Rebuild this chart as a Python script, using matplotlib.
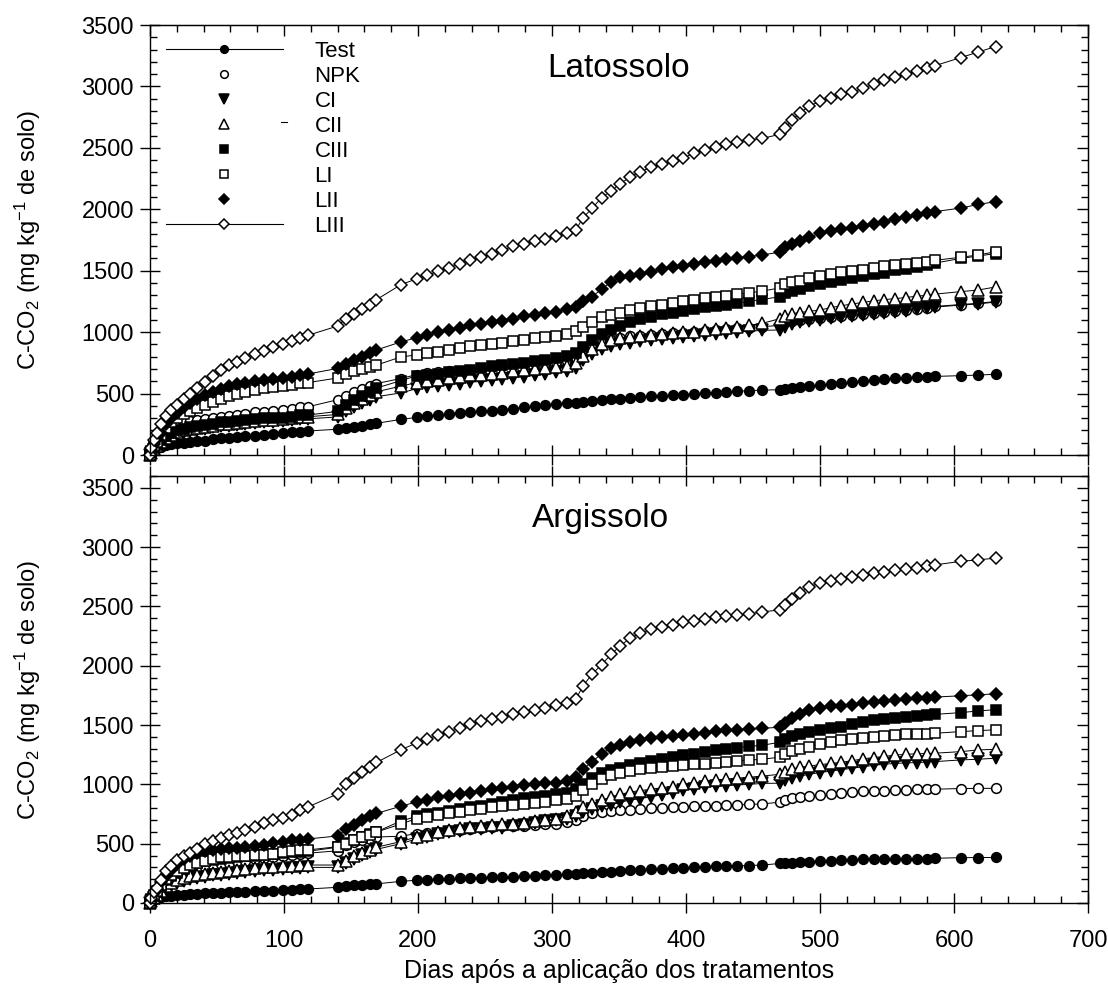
import matplotlib
matplotlib.use('Agg')
import matplotlib.pyplot as plt
from matplotlib.lines import Line2D
from matplotlib.ticker import MultipleLocator

plt.rcParams['font.family'] = ['Liberation Sans', 'DejaVu Sans']
plt.rcParams['mathtext.fontset'] = 'custom'
plt.rcParams['mathtext.rm'] = 'Liberation Sans'
plt.rcParams['mathtext.default'] = 'regular'

# sampling days (shared by all series)
days = [0, 1, 3, 5, 8, 12, 16, 20, 25, 30, 35, 41, 47, 53, 59, 65, 71, 78, 85, 92, 99, 106, 112, 118,
        140, 146, 152, 158, 164, 169,
        187, 199, 207, 215, 223, 231, 239, 247, 255, 263, 271, 279, 287, 295, 303, 311, 318,
        323, 330, 337, 344, 351, 358, 366, 374, 382, 390, 398, 406, 414, 422, 430, 438, 447, 457,
        470, 474, 479, 485, 492, 500, 508, 516, 524, 532, 540, 548, 556, 564, 572, 580, 586, 605, 618, 631]

labels = ['Test', 'NPK', 'CI', 'CII', 'CIII', 'LI', 'LII', 'LIII']

# ---- Latossolo ----
lat_test = [0, 20, 40, 55, 68, 80, 88, 94, 100, 106, 112, 118, 128, 136, 142, 147, 152, 158, 165, 172, 180, 186, 191, 196,
            210, 220, 228, 238, 250, 258,
            290, 306, 316, 326, 336, 344, 350, 356, 362, 370, 378, 388, 398, 408, 414, 420, 426,
            432, 440, 448, 454, 460, 466, 472, 477, 482, 487, 492, 497, 502, 508, 514, 519, 524, 528,
            532, 537, 542, 550, 560, 568, 576, 585, 594, 602, 610, 617, 624, 630, 634, 637, 640, 646, 651, 657]
lat_npk = [0, 30, 70, 110, 150, 195, 230, 255, 268, 276, 284, 294, 305, 310, 318, 328, 338, 350, 354, 358, 366, 378, 388, 393,
           450, 480, 510, 535, 560, 582,
           622, 655, 665, 672, 680, 688, 695, 704, 714, 722, 730, 738, 746, 752, 758, 768, 790,
           830, 875, 910, 935, 955, 965, 972, 980, 985, 990, 995, 1000, 1008, 1015, 1022, 1030, 1038, 1045,
           1055, 1080, 1092, 1100, 1110, 1118, 1126, 1134, 1142, 1150, 1158, 1166, 1173, 1182, 1190, 1198, 1210, 1225, 1235, 1250]
lat_ci = [0, 15, 40, 65, 95, 125, 150, 170, 185, 196, 206, 215, 225, 234, 240, 246, 252, 258, 265, 270, 275, 282, 290, 295,
          310, 355, 390, 420, 450, 475,
          505, 540, 552, 562, 572, 582, 592, 600, 608, 618, 628, 638, 648, 660, 672, 688, 710,
          775, 825, 862, 890, 905, 915, 925, 935, 945, 952, 960, 967, 975, 985, 993, 1000, 1008, 1015,
          1018, 1045, 1065, 1082, 1093, 1102, 1112, 1120, 1130, 1140, 1148, 1156, 1164, 1176, 1185, 1193, 1205, 1220, 1230, 1245]
lat_cii = [0, 20, 50, 75, 105, 140, 165, 185, 200, 212, 222, 230, 240, 250, 256, 262, 268, 275, 282, 288, 292, 300, 308, 312,
           330, 380, 420, 455, 490, 515,
           560, 590, 600, 612, 625, 638, 648, 655, 662, 668, 680, 692, 702, 710, 716, 728, 750,
           810, 865, 905, 935, 950, 962, 972, 978, 988, 993, 998, 1002, 1015, 1025, 1033, 1042, 1055, 1072,
           1110, 1135, 1150, 1160, 1170, 1180, 1200, 1215, 1230, 1242, 1255, 1265, 1273, 1282, 1293, 1300, 1310, 1330, 1343, 1368]
lat_ciii = [0, 25, 55, 85, 120, 155, 180, 200, 215, 228, 240, 245, 255, 266, 272, 276, 284, 292, 300, 302, 304, 312, 322, 326,
            355, 410, 450, 480, 515, 545,
            605, 645, 655, 662, 676, 685, 695, 708, 722, 730, 742, 752, 762, 775, 790, 805, 830,
            880, 940, 985, 1020, 1050, 1080, 1105, 1126, 1145, 1158, 1170, 1188, 1202, 1214, 1222, 1236, 1252, 1267,
            1288, 1315, 1338, 1355, 1375, 1395, 1412, 1428, 1442, 1455, 1470, 1485, 1502, 1516, 1532, 1547, 1563, 1600, 1620, 1640]
lat_li = [0, 30, 70, 110, 160, 220, 270, 305, 335, 360, 385, 405, 430, 460, 480, 498, 512, 530, 543, 550, 560, 572, 584, 590,
          627, 660, 680, 698, 716, 732,
          798, 815, 828, 842, 856, 870, 885, 895, 903, 912, 925, 940, 952, 960, 968, 985, 1010,
          1040, 1080, 1120, 1138, 1160, 1180, 1200, 1214, 1225, 1238, 1250, 1262, 1278, 1290, 1298, 1308, 1320, 1335,
          1360, 1390, 1405, 1420, 1440, 1460, 1470, 1486, 1500, 1510, 1525, 1537, 1545, 1557, 1565, 1572, 1585, 1610, 1628, 1655]
lat_lii = [0, 40, 90, 130, 180, 250, 300, 340, 390, 425, 455, 485, 515, 540, 560, 575, 588, 600, 610, 618, 627, 638, 650, 660,
           705, 740, 770, 800, 830, 855,
           920, 955, 980, 1000, 1020, 1038, 1055, 1070, 1082, 1092, 1110, 1128, 1142, 1155, 1168, 1185, 1205,
           1250, 1290, 1350, 1410, 1445, 1460, 1475, 1492, 1512, 1527, 1540, 1555, 1568, 1580, 1592, 1603, 1615, 1630,
           1650, 1690, 1720, 1745, 1775, 1805, 1822, 1836, 1850, 1863, 1880, 1900, 1922, 1938, 1954, 1970, 1982, 2010, 2040, 2062]
lat_liii = [0, 60, 120, 180, 250, 320, 370, 410, 455, 495, 545, 595, 640, 690, 730, 760, 790, 820, 850, 877, 903, 925, 950, 975,
            1050, 1110, 1150, 1185, 1220, 1265,
            1385, 1435, 1465, 1495, 1525, 1555, 1585, 1612, 1640, 1667, 1700, 1720, 1740, 1760, 1785, 1810, 1835,
            1930, 2010, 2095, 2150, 2210, 2260, 2305, 2345, 2370, 2395, 2420, 2455, 2485, 2510, 2530, 2550, 2565, 2578,
            2610, 2660, 2725, 2785, 2840, 2880, 2910, 2935, 2955, 2985, 3020, 3050, 3075, 3100, 3125, 3148, 3170, 3235, 3280, 3325]

# ---- Argissolo ----
arg_test = [0, 15, 30, 40, 48, 55, 62, 66, 70, 74, 77, 80, 84, 87, 90, 93, 95, 97, 100, 104, 108, 112, 115, 118,
            132, 142, 150, 155, 158, 161,
            182, 192, 197, 201, 205, 208, 210, 212, 215, 218, 221, 225, 229, 233, 238, 242, 248,
            252, 256, 259, 264, 270, 276, 280, 284, 288, 292, 297, 301, 305, 308, 311, 313, 316, 320,
            333, 337, 340, 344, 348, 352, 357, 361, 364, 367, 368, 369, 370, 371, 373, 375, 377, 382, 383, 384]
arg_npk = [0, 25, 55, 85, 125, 165, 195, 225, 250, 272, 290, 305, 320, 330, 340, 350, 358, 368, 378, 388, 398, 408, 415, 420,
           440, 490, 515, 530, 542, 556,
           563, 585, 592, 598, 608, 615, 624, 632, 640, 646, 648, 652, 656, 664, 670, 680, 702,
           735, 755, 767, 775, 782, 788, 793, 798, 803, 807, 811, 814, 817, 820, 823, 827, 831, 835,
           850, 870, 885, 897, 904, 912, 920, 930, 936, 940, 944, 948, 952, 955, 957, 958, 959, 965, 966, 967]
arg_ci = [0, 15, 35, 55, 85, 120, 145, 165, 185, 200, 212, 222, 232, 240, 248, 255, 262, 268, 275, 282, 288, 293, 297, 300,
          300, 335, 372, 402, 430, 452,
          500, 540, 556, 580, 596, 610, 620, 626, 628, 632, 645, 660, 675, 690, 702, 710, 730,
          770, 795, 815, 830, 850, 866, 880, 897, 912, 925, 950, 965, 977, 985, 990, 995, 1000, 1008,
          1010, 1035, 1055, 1070, 1085, 1100, 1112, 1124, 1136, 1148, 1160, 1170, 1177, 1181, 1184, 1188, 1192, 1206, 1212, 1220]
arg_cii = [0, 20, 45, 70, 105, 145, 170, 190, 210, 225, 235, 245, 255, 262, 270, 278, 285, 292, 300, 306, 311, 315, 318, 320,
           320, 355, 395, 422, 447, 470,
           517, 557, 573, 600, 615, 630, 642, 650, 655, 665, 668, 676, 687, 697, 710, 732, 765,
           805, 838, 865, 890, 915, 935, 948, 959, 972, 982, 1000, 1012, 1025, 1036, 1045, 1052, 1060, 1070,
           1085, 1105, 1130, 1145, 1155, 1166, 1177, 1186, 1200, 1215, 1226, 1236, 1247, 1253, 1258, 1260, 1263, 1276, 1290, 1296]
arg_ciii = [0, 25, 60, 95, 140, 190, 225, 255, 290, 315, 335, 350, 360, 370, 378, 384, 392, 400, 408, 415, 422, 428, 432, 436,
            470, 505, 535, 560, 580, 600,
            690, 730, 748, 762, 778, 792, 805, 818, 835, 852, 868, 882, 895, 902, 915, 928, 960,
            1005, 1050, 1095, 1118, 1142, 1160, 1178, 1198, 1212, 1228, 1245, 1258, 1272, 1288, 1300, 1310, 1320, 1330,
            1355, 1380, 1405, 1425, 1443, 1460, 1472, 1485, 1505, 1525, 1540, 1552, 1562, 1572, 1579, 1585, 1590, 1605, 1619, 1630]
arg_li = [0, 30, 70, 105, 150, 200, 240, 268, 295, 318, 335, 350, 375, 390, 391, 392, 396, 404, 406, 413, 428, 441, 446, 447,
          475, 500, 530, 556, 573, 598,
          665, 712, 728, 742, 758, 770, 782, 795, 808, 815, 822, 835, 846, 855, 866, 876, 905,
          950, 1000, 1045, 1080, 1098, 1115, 1127, 1138, 1146, 1153, 1162, 1168, 1175, 1182, 1192, 1200, 1205, 1211,
          1230, 1260, 1282, 1297, 1318, 1340, 1358, 1371, 1382, 1392, 1400, 1409, 1416, 1421, 1425, 1428, 1431, 1445, 1453, 1460]
arg_lii = [0, 35, 80, 120, 175, 230, 275, 330, 375, 400, 420, 438, 450, 455, 460, 463, 475, 478, 488, 502, 517, 530, 533, 540,
           565, 620, 660, 700, 730, 755,
           815, 852, 872, 890, 902, 915, 930, 945, 960, 967, 980, 993, 1000, 1008, 1015, 1025, 1065,
           1130, 1190, 1260, 1305, 1335, 1355, 1375, 1389, 1398, 1408, 1415, 1425, 1435, 1447, 1455, 1460, 1465, 1472,
           1482, 1520, 1560, 1595, 1628, 1648, 1658, 1664, 1672, 1682, 1694, 1703, 1711, 1719, 1727, 1732, 1736, 1747, 1755, 1763]
arg_liii = [0, 40, 90, 125, 190, 270, 315, 363, 395, 425, 455, 495, 525, 550, 570, 590, 616, 642, 672, 700, 718, 745, 780, 810,
            920, 1000, 1050, 1107, 1150, 1185,
            1290, 1350, 1385, 1415, 1442, 1475, 1510, 1532, 1548, 1568, 1592, 1612, 1630, 1648, 1665, 1685, 1720,
            1830, 1930, 2010, 2095, 2170, 2230, 2275, 2308, 2328, 2346, 2368, 2380, 2395, 2410, 2422, 2429, 2436, 2455,
            2470, 2513, 2565, 2615, 2665, 2698, 2718, 2735, 2750, 2765, 2780, 2792, 2806, 2814, 2824, 2838, 2851, 2880, 2893, 2907]

# marker style per treatment: (marker, face colour, size)
styles = [('o', 'black', 7.0), ('o', 'white', 7.0), ('v', 'black', 8.0), ('^', 'white', 8.0),
          ('s', 'black', 7.0), ('s', 'white', 7.0), ('D', 'black', 6.5), ('D', 'white', 6.5)]

fig = plt.figure(figsize=(11.08, 9.97), dpi=100)
ax1 = fig.add_axes([0.1354, 0.5436, 0.8466, 0.4313])
ax2 = fig.add_axes([0.1354, 0.0943, 0.8466, 0.4283])

panels = [(ax1, [lat_test, lat_npk, lat_ci, lat_cii, lat_ciii, lat_li, lat_lii, lat_liii], 'Latossolo', 3500, 0.50, 'in'),
          (ax2, [arg_test, arg_npk, arg_ci, arg_cii, arg_ciii, arg_li, arg_lii, arg_liii], 'Argissolo', 3600, 0.48, 'inout')]

ylab = 'C-CO$_2$ (mg kg$^{-1}$ de solo)'


def set_ticks(axis_obj, major_step, minor_step):
    axis_obj.set_major_locator(MultipleLocator(major_step))
    axis_obj.set_minor_locator(MultipleLocator(minor_step))


for ax, series, title, ytop, tx, top_dir in panels:
    for vals, (m, fc, ms) in zip(series, styles):
        ax.plot(days, vals, color='black', lw=0.7, marker=m, markersize=ms,
                markerfacecolor=fc, markeredgecolor='black', markeredgewidth=1.1, clip_on=False)
    ax.set_xlim(0, 700)
    ax.set_ylim(0, ytop)
    set_ticks(ax.xaxis, 100, 20)
    set_ticks(ax.yaxis, 500, 100)
    ax.tick_params(which='major', direction='inout', length=15, width=1, labelsize=17)
    ax.tick_params(which='minor', direction='in', length=5, width=1)
    ax.tick_params(axis='y', which='major', pad=4)
    for sp in ax.spines.values():
        sp.set_linewidth(1.0)

    # top and right ticks drawn on secondary axes so they can point inward
    top = ax.secondary_xaxis('top')
    set_ticks(top.xaxis, 100, 20)
    top.tick_params(which='major', direction=top_dir, length=8 if top_dir == 'in' else 15, width=1, labeltop=False)
    top.tick_params(which='minor', direction='in', length=5, width=1)
    right = ax.secondary_yaxis('right')
    set_ticks(right.yaxis, 500, 100)
    right.tick_params(which='major', direction='in', length=8, width=1, labelright=False)
    right.tick_params(which='minor', direction='in', length=5, width=1)

    ax.set_ylabel(ylab, fontsize=17)
    ax.yaxis.set_label_coords(-0.114, 0.5)
    ax.text(tx, 0.90, title, transform=ax.transAxes, fontsize=24, ha='center', va='center')

ax1.tick_params(labelbottom=False)
ax2.tick_params(axis='x', which='major', pad=12)
ax2.set_xlabel('Dias após a aplicação dos tratamentos', fontsize=18, labelpad=5)

# legend: only Test and LIII show a connecting line
handles = []
for i, (m, fc, ms) in enumerate(styles):
    ls = '-' if i in (0, 7) else 'none'
    handles.append(Line2D([], [], color='black', lw=0.8, ls=ls, marker=m,
                          markersize=ms - 1.5, markerfacecolor=fc, markeredgecolor='black',
                          markeredgewidth=1.1))
ax1.legend(handles, labels, loc='upper left', bbox_to_anchor=(0.0, 1.0), frameon=False,
           fontsize=16, handlelength=5.3, handletextpad=1.4, labelspacing=0.18,
           borderaxespad=0.3, numpoints=1)
# small stray dash next to the CII entry in the original legend
ax1.plot([0.1395, 0.1460], [0.7744, 0.7744], transform=ax1.transAxes, color='black', lw=0.8)

fig.savefig('out.png', dpi=100)
